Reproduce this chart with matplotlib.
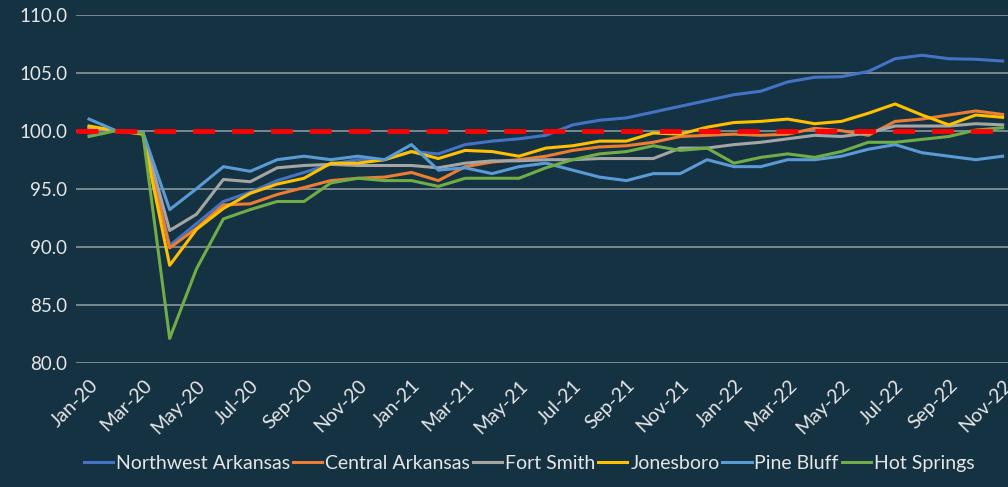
import matplotlib.pyplot as plt
import numpy as np

# monthly index values, Jan-20 .. Nov-22
months = ['Jan-20', 'Feb-20', 'Mar-20', 'Apr-20', 'May-20', 'Jun-20', 'Jul-20', 'Aug-20',
          'Sep-20', 'Oct-20', 'Nov-20', 'Dec-20', 'Jan-21', 'Feb-21', 'Mar-21', 'Apr-21',
          'May-21', 'Jun-21', 'Jul-21', 'Aug-21', 'Sep-21', 'Oct-21', 'Nov-21', 'Dec-21',
          'Jan-22', 'Feb-22', 'Mar-22', 'Apr-22', 'May-22', 'Jun-22', 'Jul-22', 'Aug-22',
          'Sep-22', 'Oct-22', 'Nov-22']

northwest = [99.8, 100.0, 99.9, 90.1, 92.0, 93.9, 94.7, 95.7, 96.4, 97.1,
             97.5, 97.5, 98.2, 98.0, 98.8, 99.1, 99.3, 99.6, 100.5, 100.9,
             101.1, 101.6, 102.1, 102.6, 103.1, 103.4, 104.2, 104.6, 104.65, 105.1,
             106.2, 106.5, 106.2, 106.15, 106.0]
central = [100.2, 100.0, 99.8, 89.9, 91.6, 93.6, 93.7, 94.5, 95.1, 95.7,
           95.9, 96.0, 96.4, 95.7, 96.9, 97.3, 97.5, 97.8, 98.3, 98.6,
           98.7, 99.0, 99.5, 99.6, 99.7, 99.6, 99.7, 100.2, 100.0, 99.6,
           100.8, 101.0, 101.35, 101.7, 101.4]
fort_smith = [100.3, 100.0, 99.9, 91.4, 92.8, 95.8, 95.6, 96.8, 97.0, 97.1,
              97.0, 97.0, 97.0, 96.8, 97.2, 97.4, 97.4, 97.5, 97.5, 97.6,
              97.6, 97.6, 98.5, 98.5, 98.8, 99.0, 99.3, 99.6, 99.5, 99.8,
              100.4, 100.4, 100.4, 100.6, 100.5]
jonesboro = [100.4, 100.0, 99.7, 88.4, 91.5, 93.3, 94.6, 95.4, 95.9, 97.2,
             97.2, 97.5, 98.2, 97.6, 98.3, 98.2, 97.8, 98.5, 98.7, 99.1,
             99.1, 99.8, 99.7, 100.3, 100.7, 100.8, 101.0, 100.6, 100.8, 101.5,
             102.3, 101.35, 100.5, 101.35, 101.15]
pine_bluff = [101.0, 100.0, 99.9, 93.2, 95.0, 96.9, 96.5, 97.5, 97.8, 97.5,
              97.8, 97.5, 98.8, 96.6, 96.8, 96.3, 96.9, 97.2, 96.6, 96.0,
              95.7, 96.3, 96.3, 97.5, 96.9, 96.9, 97.5, 97.5, 97.8, 98.4,
              98.8, 98.1, 97.8, 97.5, 97.8]
hot_springs = [99.5, 100.0, 99.8, 82.1, 88.1, 92.4, 93.2, 93.9, 93.9, 95.5,
               95.9, 95.7, 95.7, 95.2, 95.9, 95.9, 95.9, 96.8, 97.5, 98.0,
               98.2, 98.7, 98.3, 98.5, 97.2, 97.7, 98.0, 97.7, 98.2, 99.0,
               99.0, 99.25, 99.5, 100.05, 100.25]

series = [
    ('Northwest Arkansas', northwest, '#4472C4'),
    ('Central Arkansas', central, '#ED7D31'),
    ('Fort Smith', fort_smith, '#A5A5A5'),
    ('Jonesboro', jonesboro, '#FFC000'),
    ('Pine Bluff', pine_bluff, '#5B9BD5'),
    ('Hot Springs', hot_springs, '#70AD47'),
]

bg = '#143242'
text_color = '#E6E6E6'

plt.rcParams['font.family'] = ['Lato', 'DejaVu Sans']

fig = plt.figure(figsize=(10.08, 4.87), dpi=100, facecolor=bg)
ax = fig.add_axes([0.075, 0.255, 0.925, 0.715])
ax.set_facecolor(bg)

x = np.arange(len(months))
for i in np.arange(80, 111, 5):
    ax.axhline(i, color='#8A979E', linewidth=1.2, zorder=1)

for name, vals, color in series:
    ax.plot(x, vals, color=color, linewidth=2.2, label=name, zorder=3)

ax.axhline(100, color='#FF0000', linewidth=3.5, linestyle=(0, (4.5, 3.5)), zorder=4)

ax.set_ylim(80, 110)
ax.set_xlim(-0.5, 34.2)
ax.set_yticks(np.arange(80, 111, 5))
ax.set_yticklabels([f'{v:.1f}' for v in np.arange(80, 111, 5)])
ax.set_xticks(x[::2])
ax.set_xticklabels(months[::2], rotation=45, ha='right', rotation_mode='anchor')
ax.tick_params(colors=text_color, labelsize=13.5, length=0, pad=6)
ax.tick_params(axis='x', labelsize=14, pad=10)
for spine in ax.spines.values():
    spine.set_visible(False)

leg = fig.legend(loc='lower center', bbox_to_anchor=(0.525, -0.005), ncol=6,
                 frameon=False, fontsize=14, handlelength=1.5, handletextpad=0.15,
                 columnspacing=0.15, labelcolor=text_color)

fig.savefig('out.png', dpi=100, facecolor=bg)
